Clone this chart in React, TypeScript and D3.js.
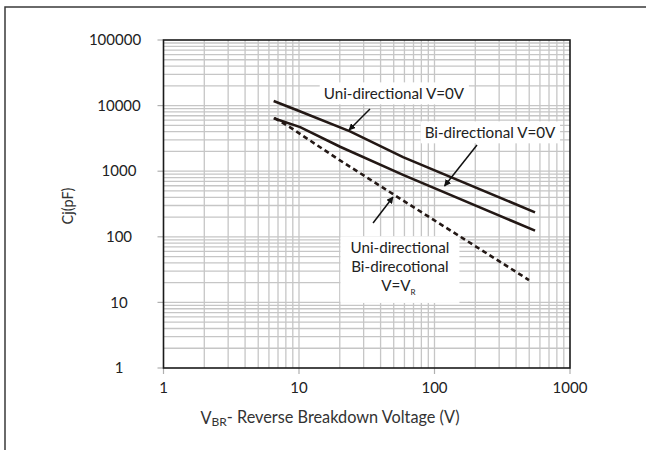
import { select, scaleLog, line as d3Line, range } from 'd3';
import { useEffect, useRef } from 'react';

// capacitance curves (V in volts, C in pF)
const uniVoltage = [6.5, 9.6, 23.8, 58.6, 552];
const uniCap = [11750, 8570, 4050, 1640, 236];

const biVoltage = [6.5, 10.2, 20.1, 58.6, 552];
const biCap = [6400, 4700, 2360, 880, 124];

const vrVoltage = [6.6, 8.6, 19.0, 58.9, 498];
const vrCap = [6470, 4670, 1573, 355, 21.9];

const xTicks = [1, 10, 100, 1000];
const yTicks = [1, 10, 100, 1000, 10000, 100000];

// annotation anchors, in data units
const uniLabel = { v: 50.2, c: 15000, text: 'Uni-directional V=0V' };
const uniArrow = { v0: 33.4, c0: 8870, v1: 23.4, c1: 4250 };
const biLabel = { v: 256.8, c: 3820, text: 'Bi-directional V=0V' };
const biArrow = { v0: 205.9, c0: 2510, v1: 118.6, c1: 595 };
const vrLabel = { v: 55.6, c: 67.5, lines: ['Uni-directional', 'Bi-direcotional'] };
const vrArrow = { v0: 35.2, c0: 162, v1: 49.4, c1: 404 };

const WIDTH = 646;
const HEIGHT = 450;
const FONT = 'Lato, "Open Sans", sans-serif';
const INK = '#231815';

const App = () => {
  const svgElem = useRef<SVGSVGElement>(null);

  useEffect(() => {
    if (!svgElem.current) {
      return;
    }
    const svg = select(svgElem.current);
    svg.selectAll('*').remove();

    const MARGINS = { top: 40, right: 76, bottom: 82, left: 163.5 };

    const xScale = scaleLog()
      .domain([1, 1000])
      .range([MARGINS.left, WIDTH - MARGINS.right]);
    const yScale = scaleLog()
      .domain([1, 100000])
      .range([HEIGHT - MARGINS.bottom, MARGINS.top]);

    const [x0, x1] = xScale.range();
    const [y0, y1] = yScale.range();

    // outer frame (only top and left edges show)
    svg.append('path')
      .attr('d', `M5,${HEIGHT} L5,7 L${WIDTH},7`)
      .attr('fill', 'none')
      .attr('stroke', '#3a3a3a')
      .attr('stroke-width', 1.5);

    // minor + major grid
    const xGrid = xTicks.slice(0, -1).flatMap((d) => range(1, 10).map((m) => d * m)).slice(1);
    const yGrid = yTicks.slice(0, -1).flatMap((d) => range(1, 10).map((m) => d * m)).slice(1);

    const grid = svg.append('g').attr('stroke', '#c6c6c6').attr('stroke-width', 1.3);
    grid.selectAll('line.vx')
      .data(xGrid)
      .join('line')
      .attr('x1', (d) => xScale(d))
      .attr('x2', (d) => xScale(d))
      .attr('y1', y0)
      .attr('y2', y1);
    grid.selectAll('line.hy')
      .data(yGrid)
      .join('line')
      .attr('class', 'hy')
      .attr('x1', x0)
      .attr('x2', x1)
      .attr('y1', (d) => yScale(d))
      .attr('y2', (d) => yScale(d));

    // tick marks outside the plot
    const ticks = svg.append('g').attr('stroke', '#b0b0b0').attr('stroke-width', 1.2);
    ticks.selectAll('line.ty')
      .data(yTicks)
      .join('line')
      .attr('x1', x0 - 6)
      .attr('x2', x0)
      .attr('y1', (d) => yScale(d))
      .attr('y2', (d) => yScale(d));
    ticks.selectAll('line.tx')
      .data(xTicks)
      .join('line')
      .attr('class', 'tx')
      .attr('x1', (d) => xScale(d))
      .attr('x2', (d) => xScale(d))
      .attr('y1', y0)
      .attr('y2', y0 + 6);

    // plot border
    svg.append('rect')
      .attr('x', x0)
      .attr('y', y1)
      .attr('width', x1 - x0)
      .attr('height', y0 - y1)
      .attr('fill', 'none')
      .attr('stroke', '#1a1a1a')
      .attr('stroke-width', 1.6);

    // tick labels
    svg.append('g')
      .selectAll('text')
      .data(yTicks)
      .join('text')
      .attr('x', (d) => (d === 100000 ? 115 : 119))
      .attr('y', (d) => yScale(d))
      .attr('dy', '0.35em')
      .attr('text-anchor', 'middle')
      .style('font-family', FONT)
      .style('font-size', '15px')
      .style('fill', '#222')
      .text((d) => String(d));
    svg.append('g')
      .selectAll('text')
      .data(xTicks)
      .join('text')
      .attr('x', (d) => xScale(d))
      .attr('y', y0 + 20)
      .attr('dy', '0.35em')
      .attr('text-anchor', 'middle')
      .style('font-family', FONT)
      .style('font-size', '15px')
      .style('fill', '#222')
      .text((d) => String(d));

    // axis titles
    svg.append('text')
      .attr('transform', `translate(68, 206) rotate(-90)`)
      .attr('text-anchor', 'middle')
      .attr('dy', '0.35em')
      .style('font-family', FONT)
      .style('font-size', '14.5px')
      .style('fill', '#333')
      .text('Cj(pF)');

    const xTitle = svg.append('text')
      .attr('x', 330)
      .attr('y', y0 + 50)
      .attr('dy', '0.35em')
      .attr('text-anchor', 'middle')
      .style('font-family', FONT)
      .style('font-size', '16.3px')
      .style('fill', '#333');
    xTitle.append('tspan').text('V');
    xTitle.append('tspan').attr('dy', '0.2em').style('font-size', '12px').text('BR');
    xTitle.append('tspan').attr('dy', '-0.2em').text('- Reverse Breakdown Voltage (V)');

    // curves
    const pts = (vs: number[], cs: number[]) => vs.map((v, i) => [xScale(v), yScale(cs[i])] as [number, number]);
    const curve = d3Line();

    svg.append('path')
      .attr('d', curve(pts(uniVoltage, uniCap)))
      .attr('fill', 'none')
      .attr('stroke', INK)
      .attr('stroke-width', 2.6);
    svg.append('path')
      .attr('d', curve(pts(biVoltage, biCap)))
      .attr('fill', 'none')
      .attr('stroke', INK)
      .attr('stroke-width', 2.6);
    svg.append('path')
      .attr('d', curve(pts(vrVoltage, vrCap)))
      .attr('fill', 'none')
      .attr('stroke', INK)
      .attr('stroke-width', 2.6)
      .attr('stroke-dasharray', '5,3.5');

    // labels with white boxes behind them
    const label = (cx: number, cy: number, lines: string[], pad: number) => {
      const g = svg.append('g');
      const box = g.append('rect').attr('fill', 'white');
      const txt = g.append('text')
        .attr('text-anchor', 'middle')
        .style('font-family', FONT)
        .style('font-size', '15.2px')
        .style('fill', '#222');
      lines.forEach((l, i) => {
        txt.append('tspan')
          .attr('x', cx)
          .attr('y', cy + i * 19)
          .attr('dy', '0.35em')
          .text(l);
      });
      return { g, box, txt, pad };
    };
    const fitBox = (l: ReturnType<typeof label>, extraBottom = 0) => {
      const bb = (l.txt.node() as SVGTextElement).getBBox();
      l.box
        .attr('x', bb.x - l.pad)
        .attr('y', bb.y - 2)
        .attr('width', bb.width + l.pad * 2)
        .attr('height', bb.height + 4 + extraBottom);
    };

    const l1 = label(xScale(uniLabel.v), yScale(uniLabel.c), [uniLabel.text], 4);
    fitBox(l1);
    const l2 = label(xScale(biLabel.v), yScale(biLabel.c), [biLabel.text], 4);
    fitBox(l2);
    const l3 = label(xScale(vrLabel.v), yScale(vrLabel.c), [...vrLabel.lines, ''], 10);
    // third line: V=V with subscript R
    const t3 = l3.txt.select('tspan:last-child');
    t3.attr('dx', '-0.1em');
    t3.append('tspan').text('V=V');
    t3.append('tspan').attr('dy', '0.45em').style('font-size', '8px').text('R');
    fitBox(l3, 4);

    // arrows
    svg.append('defs')
      .append('marker')
      .attr('id', 'arrowhead')
      .attr('viewBox', '0 0 10 10')
      .attr('refX', 9)
      .attr('refY', 5)
      .attr('markerWidth', 7)
      .attr('markerHeight', 7)
      .attr('markerUnits', 'userSpaceOnUse')
      .attr('orient', 'auto')
      .append('path')
      .attr('d', 'M0,0 L10,5 L0,10 z')
      .attr('fill', '#111');

    [uniArrow, biArrow, vrArrow].forEach((a) => {
      svg.append('line')
        .attr('x1', xScale(a.v0))
        .attr('y1', yScale(a.c0))
        .attr('x2', xScale(a.v1))
        .attr('y2', yScale(a.c1))
        .attr('stroke', '#111')
        .attr('stroke-width', 1.5)
        .attr('marker-end', 'url(#arrowhead)');
    });
  }, []);

  return (
    <svg
      ref={svgElem}
      width={WIDTH}
      height={HEIGHT}
      style={{ position: 'absolute', left: 0, top: 0, background: 'white' }}
    />
  );
};

export default App;
